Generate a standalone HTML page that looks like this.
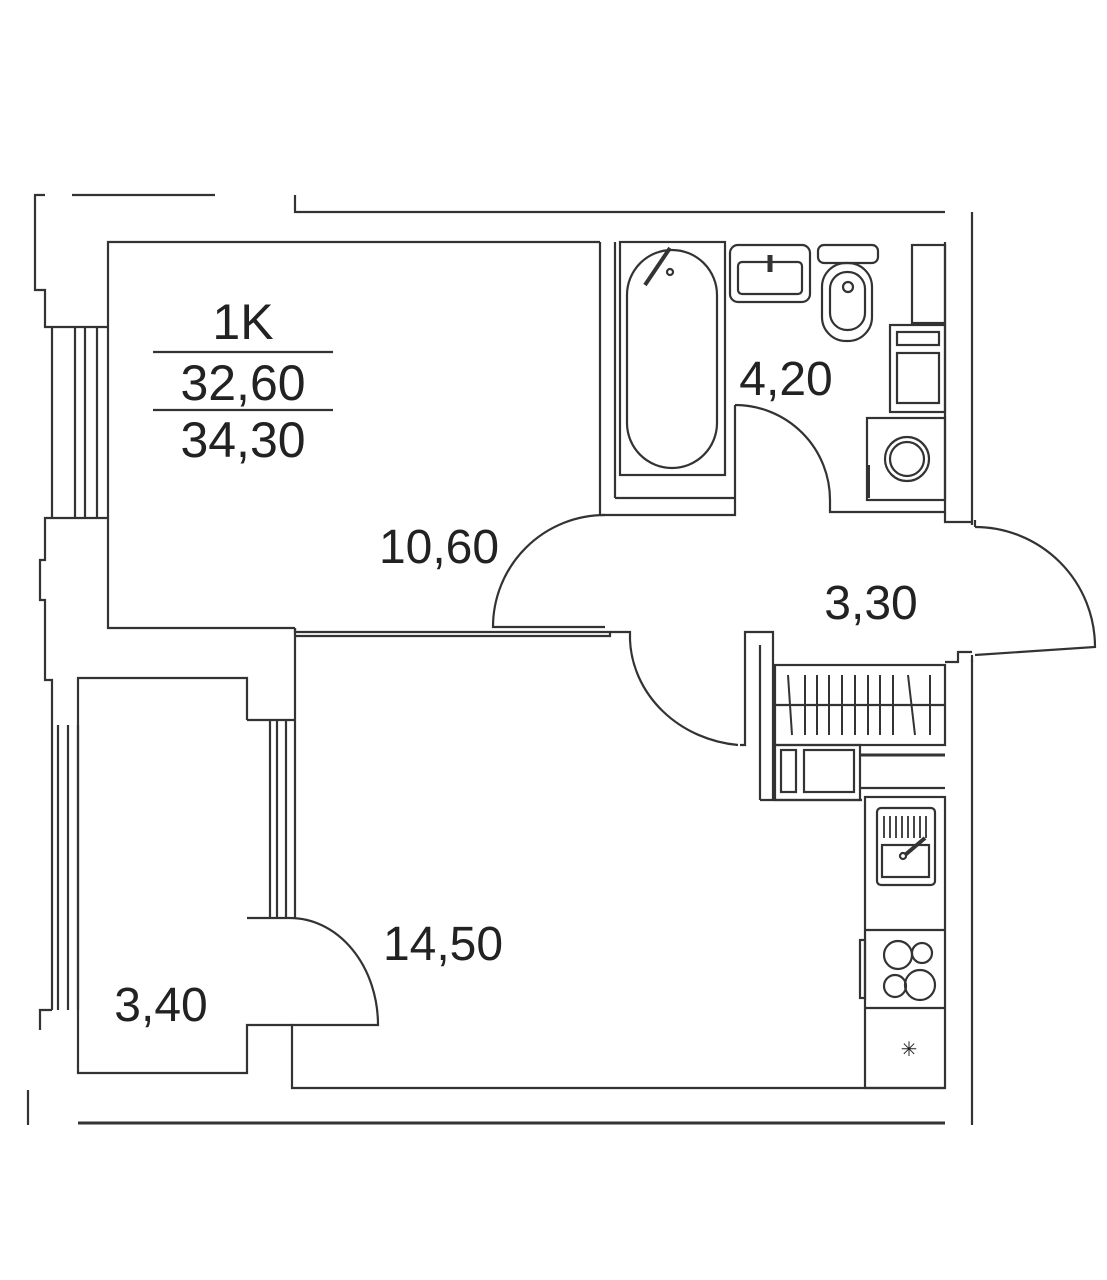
<!DOCTYPE html>
<html><head><meta charset="utf-8"><style>
html,body{margin:0;padding:0;background:#fff;}
svg{display:block;}
text{font-family:"Liberation Sans",sans-serif;fill:#222;}
</style></head><body>
<svg width="1107" height="1280" viewBox="0 0 1107 1280" xmlns="http://www.w3.org/2000/svg">
<g fill="none" stroke="#333" stroke-width="2.2">
<polyline points="72,195 215,195"/>
<polyline points="295,195 295,212 945,212"/>
<line x1="972" y1="212" x2="972" y2="525"/>
<line x1="972" y1="660" x2="972" y2="1125"/>
<line x1="78" y1="1123" x2="945" y2="1123" stroke-width="3"/>
<line x1="28" y1="1090" x2="28" y2="1125"/>
<polyline points="45,195 35,195 35,290 45,290 45,327 108,327"/>
<polyline points="108,518 45,518 45,560 40,560 40,600 45,600 45,680 52,680 52,725"/>
<polyline points="52,1010 40,1010 40,1030"/>
<polyline points="600,242 108,242 108,628 295,628"/>
<line x1="52" y1="327" x2="52" y2="518"/><line x1="75" y1="327" x2="75" y2="518"/>
<line x1="85" y1="327" x2="85" y2="518"/><line x1="97" y1="327" x2="97" y2="518"/>
<polyline points="295,628 295,632 490,632 610,632 610,636 295,636"/>
<line x1="295" y1="628" x2="295" y2="720"/>
<line x1="600" y1="242" x2="600" y2="515"/>
<line x1="615" y1="242" x2="615" y2="498"/>
<polyline points="615,498 735,498"/>
<rect x="620" y="242" width="105" height="233"/>
<rect x="627" y="250" width="90" height="218" rx="45"/>
<line x1="645" y1="285" x2="670" y2="248" stroke-width="4"/>
<circle cx="670" cy="272" r="3"/>
<polyline points="600,515 735,515 735,405"/>
<path d="M735,405 A95,95 0 0 1 830,500"/>
<polyline points="830,500 830,512 945,512 945,242"/>
<polyline points="945,512 945,522 972,522"/>
<rect x="730" y="245" width="80" height="57" rx="8"/>
<rect x="738" y="262" width="64" height="32" rx="4"/>
<line x1="770" y1="255" x2="770" y2="272" stroke-width="5"/>
<rect x="818" y="245" width="60" height="18" rx="6"/>
<rect x="822" y="263" width="50" height="78" rx="24"/>
<rect x="830" y="272" width="35" height="58" rx="17"/>
<circle cx="848" cy="287" r="5"/>
<rect x="912" y="245" width="33" height="78"/>
<rect x="890" y="325" width="55" height="87"/>
<rect x="897" y="332" width="42" height="13"/>
<rect x="897" y="353" width="42" height="50"/>
<rect x="867" y="418" width="78" height="82"/>
<circle cx="907" cy="459" r="22"/><circle cx="907" cy="459" r="17"/>
<line x1="868" y1="465" x2="868" y2="498" stroke-width="4"/>
<path d="M605,515 A112,112 0 0 0 493,627 L605,627"/>
<path d="M975,527 A120,120 0 0 1 1095,647 L975,655"/>
<line x1="975" y1="527" x2="975" y2="520"/>
<line x1="972" y1="655" x2="972" y2="662"/>
<path d="M630,640 A120,110 0 0 0 738,745"/>
<polyline points="610,632 630,632 630,640"/>
<polyline points="740,745 745,745 745,632 773,632 773,800"/>
<line x1="760" y1="645" x2="760" y2="800"/>
<polyline points="760,800 862,800"/>
<rect x="775" y="665" width="170" height="80"/>
<line x1="775" y1="705" x2="945" y2="705"/>
<g stroke-width="2">
<line x1="788" y1="675" x2="792" y2="735"/><line x1="805" y1="675" x2="805" y2="735"/>
<line x1="817" y1="675" x2="817" y2="735"/><line x1="829" y1="675" x2="829" y2="735"/>
<line x1="842" y1="675" x2="842" y2="735"/><line x1="855" y1="675" x2="855" y2="735"/>
<line x1="868" y1="675" x2="868" y2="735"/><line x1="880" y1="675" x2="880" y2="735"/>
<line x1="893" y1="675" x2="893" y2="735"/><line x1="908" y1="675" x2="915" y2="735"/>
<line x1="930" y1="675" x2="930" y2="735"/>
</g>
<rect x="775" y="745" width="85" height="55"/>
<rect x="781" y="750" width="15" height="42"/>
<rect x="804" y="750" width="50" height="42"/>
<line x1="860" y1="755" x2="945" y2="755" stroke-width="3"/>
<line x1="860" y1="788" x2="945" y2="788"/>
<polyline points="945,662 958,662 958,652 972,652"/>
<rect x="865" y="797" width="80" height="291"/>
<rect x="877" y="808" width="58" height="77" rx="4"/>
<rect x="882" y="845" width="47" height="32"/>
<g stroke-width="1.8"><line x1="884" y1="816" x2="884" y2="838"/><line x1="890" y1="816" x2="890" y2="838"/><line x1="896" y1="816" x2="896" y2="838"/><line x1="902" y1="816" x2="902" y2="838"/><line x1="908" y1="816" x2="908" y2="838"/><line x1="914" y1="816" x2="914" y2="838"/><line x1="920" y1="816" x2="920" y2="838"/><line x1="926" y1="816" x2="926" y2="838"/></g>
<line x1="905" y1="855" x2="925" y2="838" stroke-width="4"/>
<circle cx="903" cy="856" r="3"/>
<line x1="865" y1="930" x2="945" y2="930"/>
<line x1="865" y1="1008" x2="945" y2="1008"/>
<rect x="860" y="940" width="5" height="58"/>
<circle cx="898" cy="955" r="14"/><circle cx="922" cy="953" r="10"/>
<circle cx="895" cy="986" r="11"/><circle cx="920" cy="985" r="15"/>
<line x1="295" y1="720" x2="295" y2="918"/>
<line x1="270" y1="720" x2="270" y2="918"/>
<line x1="277" y1="720" x2="277" y2="918"/>
<line x1="286" y1="720" x2="286" y2="918"/>
<polyline points="247,720 295,720"/>
<polyline points="247,918 290,918"/>
<path d="M290,918 A88,107 0 0 1 378,1025 L292,1025 L292,1088 L945,1088"/>
<polyline points="247,720 247,678 78,678 78,1073 247,1073 247,1025 292,1025"/>
<line x1="52" y1="725" x2="52" y2="1010"/>
<line x1="58" y1="725" x2="58" y2="1010"/>
<line x1="68" y1="725" x2="68" y2="1010"/>
<line x1="78" y1="725" x2="78" y2="1010"/>
<line x1="153" y1="352" x2="333" y2="352"/>
<line x1="153" y1="410" x2="333" y2="410"/>
</g>
<text x="909" y="1056" font-size="20" text-anchor="middle">✳</text>
<g font-size="50" text-anchor="middle">
<text x="243" y="339">1K</text>
<text x="243" y="400">32,60</text>
<text x="243" y="457">34,30</text>
</g>
<g font-size="48" text-anchor="middle">
<text x="439" y="563">10,60</text>
<text x="786" y="395">4,20</text>
<text x="871" y="619">3,30</text>
<text x="443" y="960">14,50</text>
<text x="161" y="1021">3,40</text>
</g>
</svg>
</body></html>
